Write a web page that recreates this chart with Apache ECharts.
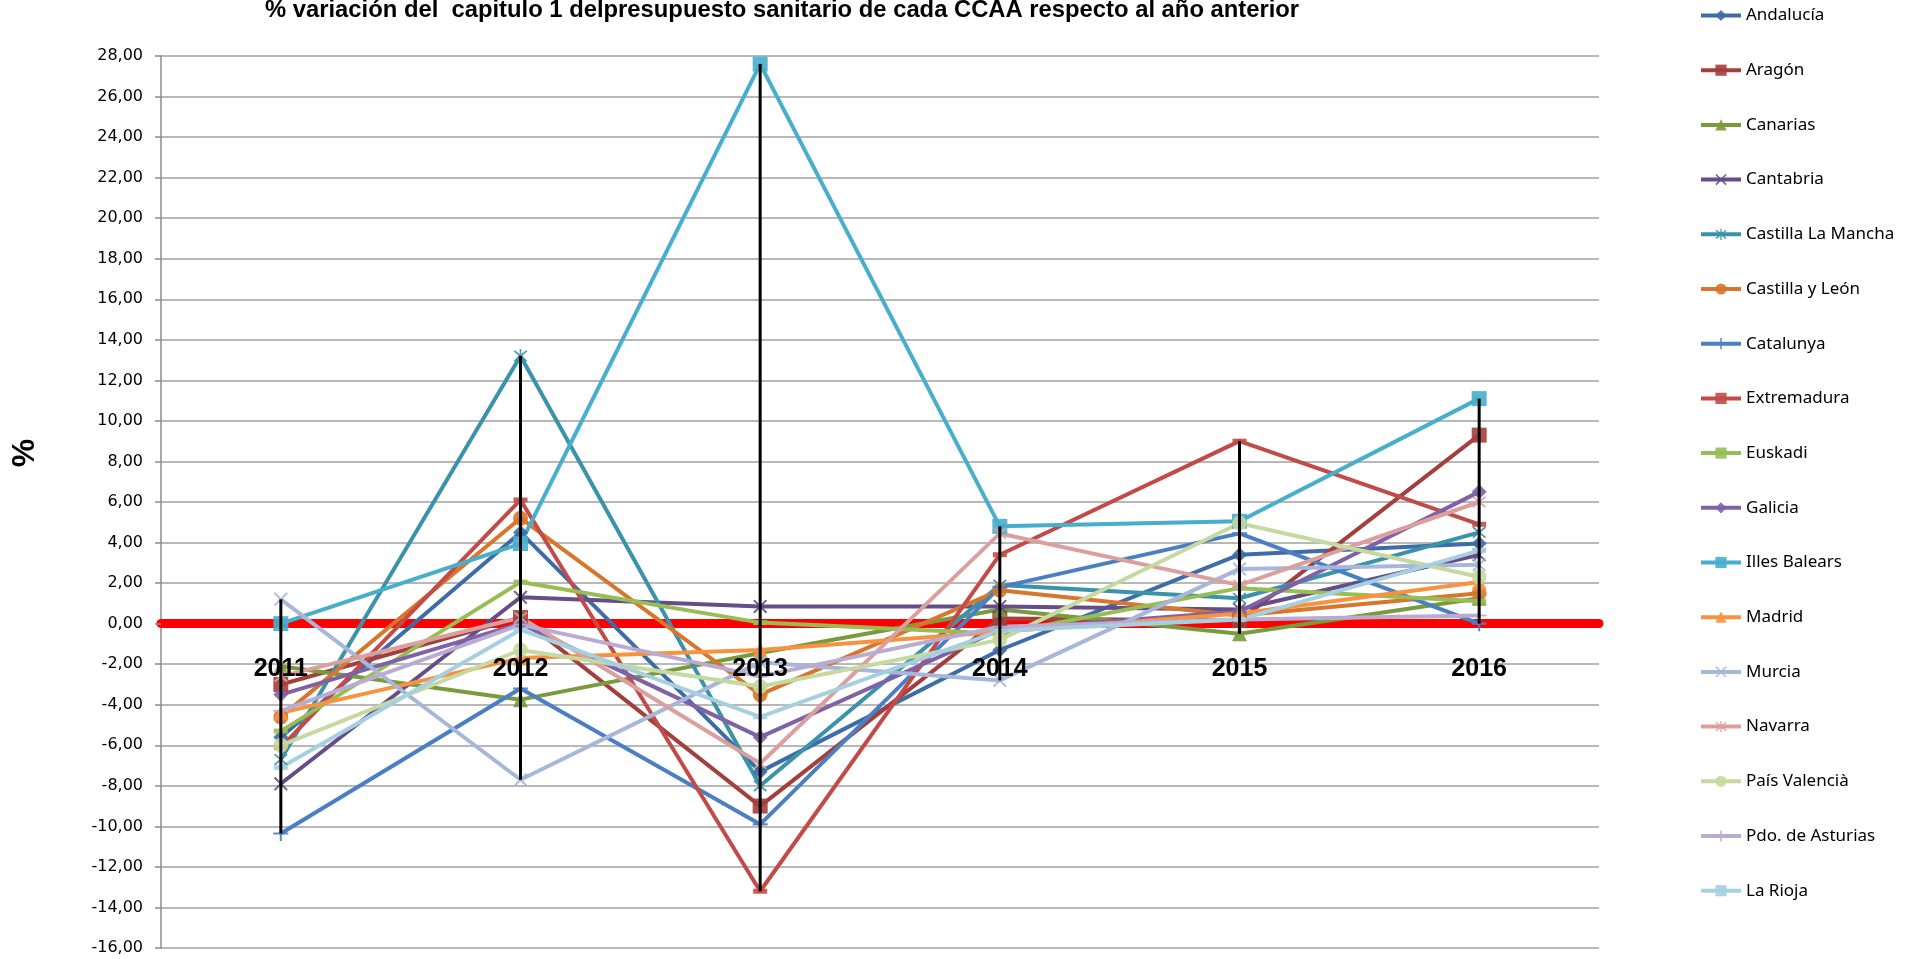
<!DOCTYPE html>
<html>
<head>
<meta charset="utf-8">
<title>Capítulo 1 - variación</title>
<script src="https://cdn.jsdelivr.net/npm/echarts@6/dist/echarts.min.js"></script>
<style>
  html, body { margin: 0; padding: 0; background: #fff; }
  #chart { width: 1908px; height: 959px; }
</style>
</head>
<body>
<div id="chart"></div>
<script>
  // años (categorías)
  var years = ['2011', '2012', '2013', '2014', '2015', '2016'];

  // % variación por comunidad
  var andalucia = [-5.6, 4.5, -7.3, -1.3, 3.4, 3.95];
  var aragon = [-3.0, 0.3, -9.0, 0.25, 0.15, 9.3];
  var canarias = [-2.1, -3.75, -1.45, 0.7, -0.5, 1.25];
  var cantabria = [-7.9, 1.3, 0.85, 0.85, 0.7, 3.4];
  var castillaLaMancha = [-6.7, 13.2, -8.0, 1.9, 1.25, 4.5];
  var castillaLeon = [-4.6, 5.2, -3.5, 1.65, 0.4, 1.5];
  var catalunya = [-10.35, -3.2, -9.9, 1.8, 4.45, 0.0];
  var extremadura = [-6.1, 6.1, -13.2, 3.4, 9.0, 4.9];
  var euskadi = [-5.3, 2.05, 0.05, -0.5, 1.75, 1.1];
  var galicia = [-3.5, 0.0, -5.6, -0.3, 0.6, 6.5];
  var illesBalears = [0.0, 3.95, 27.6, 4.8, 5.05, 11.1];
  var madrid = [-4.4, -1.7, -1.3, -0.4, 0.5, 2.05];
  var murcia = [1.2, -7.7, -1.9, -2.8, 2.7, 2.9];
  var navarra = [-2.6, 0.3, -6.9, 4.45, 1.9, 6.0];
  var paisValencia = [-6.0, -1.3, -3.1, -0.8, 4.95, 2.3];
  var asturias = [-4.3, -0.05, -2.6, -0.15, 0.2, 0.4];
  var laRioja = [-7.1, -0.3, -4.6, -0.35, 0.2, 3.6];

  // marcadores tipo excel
  var symX = 'path://M1,0L5,4L9,0L10,1L6,5L10,9L9,10L5,6L1,10L0,9L4,5L0,1Z';
  var symStar = 'path://M1,0L5,4L9,0L10,1L6,5L10,9L9,10L5,6L1,10L0,9L4,5L0,1ZM4.4,-1L5.6,-1L5.6,11L4.4,11Z';
  var symPlus = 'path://M4.3,0L5.7,0L5.7,4.3L10,4.3L10,5.7L5.7,5.7L5.7,10L4.3,10L4.3,5.7L0,5.7L0,4.3L4.3,4.3Z';

  var series = [
    {name: 'Andalucía', data: andalucia, color: '#3D6CA8', symbol: 'diamond', size: 15},
    {name: 'Aragón', data: aragon, color: '#A33F3C', symbol: 'rect', size: 15},
    {name: 'Canarias', data: canarias, color: '#7A9A3E', symbol: 'triangle', size: 15},
    {name: 'Cantabria', data: cantabria, color: '#654D88', symbol: symX, size: 14},
    {name: 'Castilla La Mancha', data: castillaLaMancha, color: '#3A93AA', symbol: symStar, size: 14},
    {name: 'Castilla y León', data: castillaLeon, color: '#D7762C', symbol: 'circle', size: 15},
    {name: 'Catalunya', data: catalunya, color: '#4B7FC4', symbol: symPlus, size: 15},
    {name: 'Extremadura', data: extremadura, color: '#C24B48', symbol: 'rect', size: [14, 5]},
    {name: 'Euskadi', data: euskadi, color: '#98BD55', symbol: 'rect', size: [14, 5]},
    {name: 'Galicia', data: galicia, color: '#7F62A6', symbol: 'diamond', size: 15},
    {name: 'Illes Balears', data: illesBalears, color: '#47AECB', symbol: 'rect', size: 15},
    {name: 'Madrid', data: madrid, color: '#F8923F', symbol: 'triangle', size: 15},
    {name: 'Murcia', data: murcia, color: '#A6B7DA', symbol: symX, size: 14},
    {name: 'Navarra', data: navarra, color: '#DBA09E', symbol: symStar, size: 14},
    {name: 'País Valencià', data: paisValencia, color: '#C5D9A0', symbol: 'circle', size: 15},
    {name: 'Pdo. de Asturias', data: asturias, color: '#BAABD0', symbol: symPlus, size: 15},
    {name: 'La Rioja', data: laRioja, color: '#A6D0E0', symbol: 'rect', size: [14, 5]}
  ];

  // líneas máximo-mínimo de cada año
  var highLow = years.map(function (y, i) {
    var vals = series.map(function (s) { return s.data[i]; });
    return [i, Math.max.apply(null, vals), Math.min.apply(null, vals)];
  });

  var lineSeries = series.map(function (s) {
    return {
      name: s.name,
      type: 'line',
      data: s.data,
      symbol: s.symbol,
      symbolSize: s.size,
      showAllSymbol: true,
      lineStyle: {width: 4, color: s.color},
      itemStyle: {color: s.color, opacity: 0.9},
      emphasis: {disabled: true},
      z: 2
    };
  });

  lineSeries.push({
    type: 'custom',
    name: 'max-min',
    data: highLow,
    encode: {x: 0, y: [1, 2]},
    z: 5,
    silent: true,
    renderItem: function (params, api) {
      var top = api.coord([api.value(0), api.value(1)]);
      var bottom = api.coord([api.value(0), api.value(2)]);
      return {
        type: 'line',
        shape: {x1: top[0], y1: top[1], x2: bottom[0], y2: bottom[1]},
        style: {stroke: '#000', lineWidth: 3}
      };
    }
  });

  // etiquetas de año pegadas al eje en 0
  lineSeries.push({
    type: 'custom',
    name: 'años',
    data: years.map(function (y, i) { return [i, 0]; }),
    encode: {x: 0, y: 1},
    z: 6,
    silent: true,
    renderItem: function (params, api) {
      var p = api.coord([api.value(0), 0]);
      return {
        type: 'text',
        x: p[0],
        y: p[1] + 45,
        style: {
          text: years[params.dataIndex],
          fontFamily: 'Liberation Sans',
          fontSize: 25,
          fontWeight: 'bold',
          fill: '#000',
          align: 'center',
          verticalAlign: 'middle'
        }
      };
    }
  });

  var myChart = echarts.init(document.getElementById('chart'));
  myChart.setOption({
    animation: false,
    color: series.map(function (s) { return s.color; }),
    title: {
      text: '% variación del  capitulo 1 delpresupuesto sanitario de cada CCAA respecto al año anterior',
      left: 260,
      top: -7,
      textStyle: {fontFamily: 'Liberation Sans', fontSize: 23.8, fontWeight: 'bold', color: '#000'}
    },
    legend: {
      orient: 'vertical',
      left: 1694,
      top: 2,
      itemWidth: 40,
      itemHeight: 14,
      itemGap: 37.7,
      data: series.map(function (s) { return s.name; }),
      lineStyle: {width: 4},
      textStyle: {fontFamily: 'Noto Sans', fontSize: 17, lineHeight: 16, color: '#000'}
    },
    graphic: [{
      type: 'text',
      x: 25,
      y: 453,
      rotation: Math.PI / 2,
      style: {text: '%', fontFamily: 'Liberation Sans', fontSize: 32, fontWeight: 'bold', fill: '#000', align: 'center', verticalAlign: 'middle'}
    }],
    grid: {left: 161, top: 56, width: 1438, height: 892, outerBoundsMode: 'none'},
    xAxis: {
      type: 'category',
      data: years,
      axisLine: {onZero: true, lineStyle: {color: '#FF0000', width: 9}},
      axisTick: {show: false},
      axisLabel: {show: false},
      splitLine: {show: false}
    },
    yAxis: {
      type: 'value',
      min: -16,
      max: 28,
      interval: 2,
      axisLine: {show: true, lineStyle: {color: '#8C8C8C', width: 1.5}},
      axisTick: {show: true, inside: false, length: 6, lineStyle: {color: '#8C8C8C', width: 1.5}},
      axisLabel: {
        margin: 18,
        fontFamily: 'DejaVu Sans',
        fontSize: 16,
        color: '#000',
        formatter: function (v) { return v.toFixed(2).replace('.', ','); }
      },
      splitLine: {lineStyle: {color: '#A0A0A0', width: 1.5}}
    },
    series: lineSeries
  });
</script>
</body>
</html>
